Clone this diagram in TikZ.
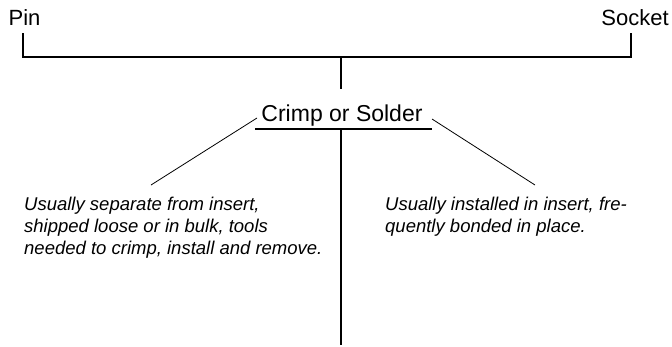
\documentclass[tikz,border=0pt]{standalone}
\usepackage{fontspec}
\setmainfont{Liberation Sans}
\begin{document}
\begin{tikzpicture}[x=1pt,y=-1pt,
  head/.style={font=\fontsize{22}{26}\selectfont, inner sep=0pt, anchor=base},
  note/.style={font=\fontsize{18.5}{22}\selectfont\itshape, align=left, inner sep=0pt, anchor=base west},
  bar/.style={line width=1.6pt},
  lead/.style={line width=0.8pt}]
\useasboundingbox (0,0) rectangle (672,346);
\node[head] (pin) at (24.5,25) {Pin};
\node[head] (socket) at (635,25) {Socket};
\node[head, font=\fontsize{23}{27}\selectfont] (crimp) at (342,121) {Crimp or Solder};
% base of a multi-line node is the baseline of its last line
\node[note] (left) at (24,254) {Usually separate from insert,\\shipped loose or in bulk, tools\\needed to crimp, install and remove.};
\node[note] (right) at (385,232) {Usually installed in insert, fre-\\quently bonded in place.};
\coordinate (pinfoot) at (23,33);
\coordinate (sockfoot) at (631,33);
\coordinate (hub) at (341,57);
\coordinate (stubend) at (341,89);
\coordinate (ulL) at (255,129);
\coordinate (ulR) at (432,129);
\coordinate (ulmid) at (341,129);
\coordinate (bottom) at (341,345);
\coordinate (leadL) at (257,118);
\coordinate (leftTip) at (151,185);
\coordinate (leadR) at (432,119);
\coordinate (rightTip) at (535,185);
\draw[bar] (pinfoot) -- (pinfoot |- hub) -- (sockfoot |- hub) -- (sockfoot);
\draw[bar] (hub) -- (stubend);
\draw[bar] (ulL) -- (ulR);
\draw[bar] (ulmid) -- (bottom);
\draw[lead] (leadL) -- (leftTip);
\draw[lead] (leadR) -- (rightTip);
\end{tikzpicture}
\end{document}
